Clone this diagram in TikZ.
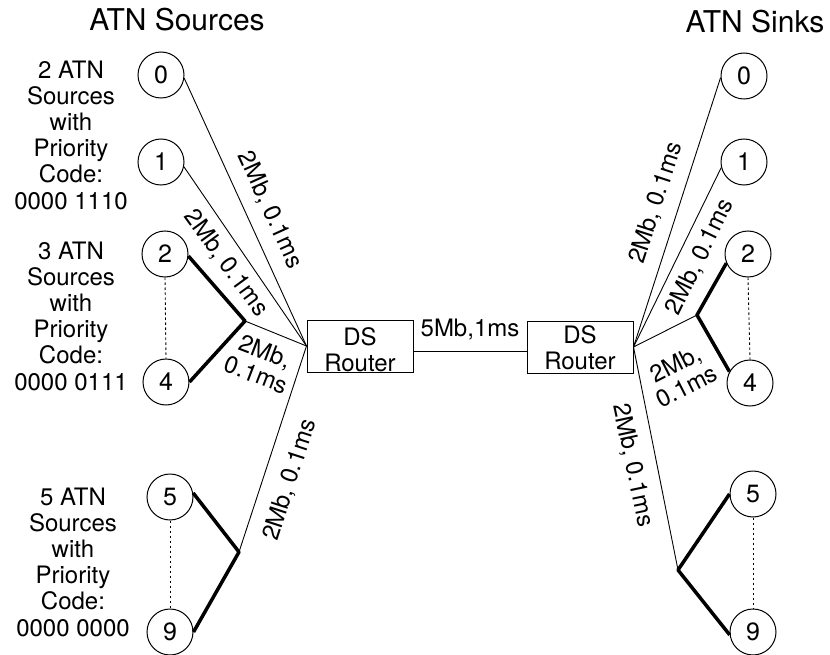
\documentclass[tikz,border=0pt]{standalone}
\usepackage{fontspec}
\setmainfont{TeX Gyre Heros}
\begin{document}
\begin{tikzpicture}[x=1pt,y=-1pt,
  blocktxt/.style={font=\fontsize{24}{26.2}\selectfont, align=center, inner sep=0pt},
  ttl/.style={font=\fontsize{30}{32}\selectfont, inner sep=0pt, anchor=base},
  nd/.style={circle, draw, line width=1pt, minimum size=46pt, inner sep=0pt, font=\fontsize{25}{26}\selectfont},
  router/.style={draw, line width=1pt, minimum width=106pt, minimum height=52pt, inner sep=0pt},
  thinlink/.style={line width=0.9pt},
  heavy/.style={line width=3.5pt, line join=round},
  dots/.style={line width=0.9pt, dash pattern=on 2.5pt off 2.5pt},
  rot/.style={font=\fontsize{24}{25}\selectfont, inner sep=0pt, align=center}
]
\useasboundingbox (0,0) rectangle (830,655);

% titles
\node[ttl] (tsrc) at (177,31) {ATN Sources};
\node[ttl] (tsnk) at (755,33) {ATN Sinks};

% left text blocks
\node[blocktxt] (b1) at (71,135) {2 ATN\\Sources\\with\\Priority\\Code:\\0000 1110};
\node[blocktxt] (b2) at (71,316) {3 ATN\\Sources\\with\\Priority\\Code:\\0000 0111};
\node[blocktxt] (b3) at (73,562) {5 ATN\\Sources\\with\\Priority\\Code:\\0000 0000};

% left circles
\node[nd] (l0) at (161,75) {0};
\node[nd] (l1) at (161,162) {1};
\node[nd] (l2) at (165,254) {2};
\node[nd] (l4) at (166,382) {4};
\node[nd] (l5) at (170,497) {5};
\node[nd] (l9) at (170,632) {9};

% right circles
\node[nd] (r0) at (744,76) {0};
\node[nd] (r1) at (744,162) {1};
\node[nd] (r2) at (748,254) {2};
\node[nd] (r4) at (750,383) {4};
\node[nd] (r5) at (753,494) {5};
\node[nd] (r9) at (753,632) {9};

% routers
\node[router] (lr) at (360,346) {};
\node[router] (rr) at (580,347) {};
\node[blocktxt] (lrt) at (360,350) {DS\\Router};
\node[blocktxt] (rrt) at (580,348) {DS\\Router};

% junctions
\coordinate (j1) at (245,321);
\coordinate (j2) at (239,552);
\coordinate (j3) at (697,315);
\coordinate (j4) at (678,570);

% left links
\draw[thinlink] (l0.-8) -- (lr.west);
\draw[thinlink] (l1.-12) -- (lr.west);
\draw[thinlink] (j1) -- (lr.west);
\draw[thinlink] (j2) -- (lr.west);
\draw[heavy] (l2.-5) -- (j1) -- (l4.east);
\draw[heavy] (l5.10) -- (j2) -- (l9.east);
\draw[dots] (l2.south) -- (l4.north);
\draw[dots] (l5.south) -- (l9.north);

% right links
\draw[thinlink] (rr.east) -- (r0.184);
\draw[thinlink] (rr.east) -- (r1.194);
\draw[thinlink] (rr.east) -- (j3);
\draw[thinlink] (rr.east) -- (j4);
\draw[heavy] (r2.203) -- (j3) -- (r4.151);
\draw[heavy] (r5.west) -- (j4) -- (r9.187);
\draw[dots] (r2.south) -- (r4.north);
\draw[dots] (r5.south) -- (r9.north);

% middle link
\draw[thinlink] ([yshift=-5pt]lr.east) -- ([yshift=-4pt]rr.west);
\node[rot, anchor=base] (mid) at (470,336) {5Mb,1ms};

% link labels
\node[rot, rotate=-65.6] (la) at (270,210) {2Mb, 0.1ms};
\node[rot, rotate=-54] (lb) at (226,263) {2Mb, 0.1ms};
\node[rot, rotate=-21] (lc) at (261,363) {2Mb,\\0.1ms};
\node[rot, rotate=72] (ld) at (290,480) {2Mb, 0.1ms};
\node[rot, rotate=72] (ra) at (656,203) {2Mb, 0.1ms};
\node[rot, rotate=64] (rb) at (700,257) {2Mb, 0.1ms};
\node[rot, rotate=27] (rc) at (681,375) {2Mb,\\0.1ms};
\node[rot, rotate=-78] (rd) at (633,465) {2Mb, 0.1ms};
\end{tikzpicture}
\end{document}
